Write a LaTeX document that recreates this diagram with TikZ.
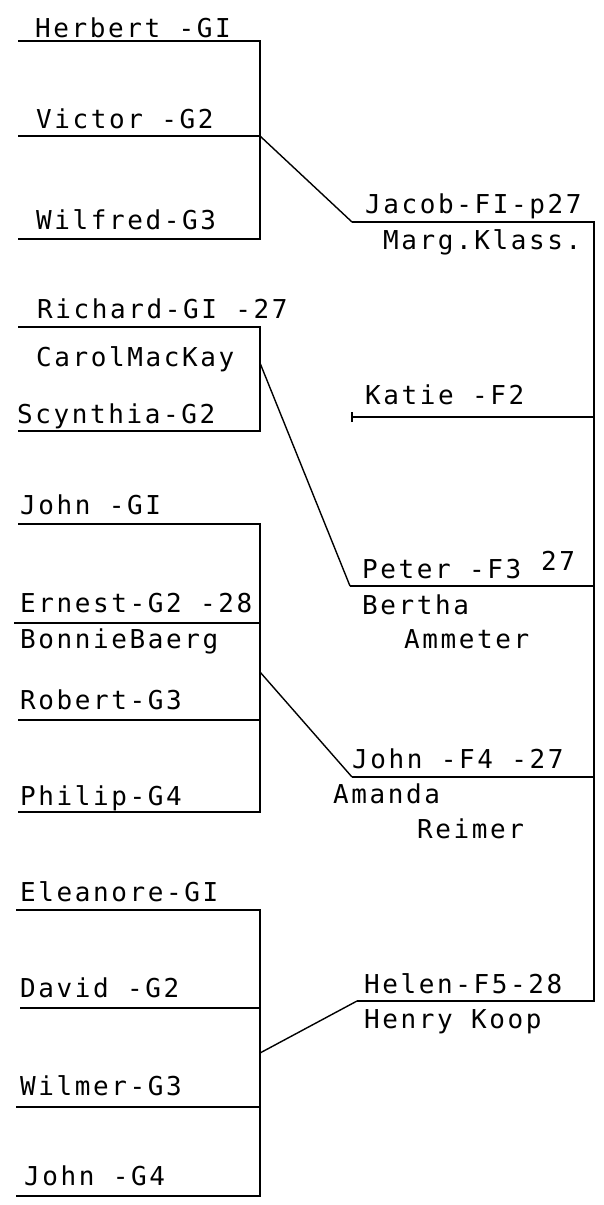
\documentclass[tikz,border=0pt]{standalone}
\usepackage{fontspec}
\newfontfamily\plotfont[LetterSpace=10]{DejaVu Sans Mono}
\begin{document}
\begin{tikzpicture}[x=1pt,y=-1pt,
  lbl/.style={anchor=base west, inner sep=0pt, font=\plotfont\fontsize{26}{26}\selectfont},
  ln/.style={line width=2pt, line join=miter}]
\useasboundingbox (0,0) rectangle (604,1205);
% ---------- left group 1
\coordinate (a1L) at (18,41);  \coordinate (a1R) at (260,41);
\coordinate (a2L) at (18,136); \coordinate (a2R) at (260,136);
\coordinate (a3L) at (18,239); \coordinate (a3R) at (260,239);
\node[lbl] (herbert) at (35,37) {Herbert -GI};
\node[lbl] (victor) at (36,128) {Victor -G2};
\node[lbl] (wilfred) at (36,229) {Wilfred-G3};
\draw[ln] (a1L) -- (a1R) -- (a3R) -- (a3L);
\draw[ln] (a2L) -- (a2R);
% ---------- left group 2
\coordinate (b1L) at (18,327); \coordinate (b1R) at (260,327);
\coordinate (b2L) at (18,431); \coordinate (b2R) at (260,431);
\coordinate (bJ) at (260,363);
\node[lbl] (richard) at (37,318) {Richard-GI -27};
\node[lbl] (carol) at (36,366) {CarolMacKay};
\node[lbl] (scynthia) at (17,423) {Scynthia-G2};
\draw[ln] (b1L) -- (b1R) -- (b2R) -- (b2L);
% ---------- left group 3
\coordinate (c1L) at (18,524); \coordinate (c1R) at (260,524);
\coordinate (c2L) at (14,623); \coordinate (c2R) at (260,623);
\coordinate (c3L) at (18,720); \coordinate (c3R) at (260,720);
\coordinate (c4L) at (18,812); \coordinate (c4R) at (260,812);
\coordinate (cJ) at (260,672);
\node[lbl] (john1) at (20,514) {John -GI};
\node[lbl] (ernest) at (20,612) {Ernest-G2 -28};
\node[lbl] (bonnie) at (20,648) {BonnieBaerg};
\node[lbl] (robert) at (20,709) {Robert-G3};
\node[lbl] (philip) at (20,805) {Philip-G4};
\draw[ln] (c1L) -- (c1R) -- (c4R) -- (c4L);
\draw[ln] (c2L) -- (c2R);
\draw[ln] (c3L) -- (c3R);
% ---------- left group 4
\coordinate (d1L) at (16,910);  \coordinate (d1R) at (260,910);
\coordinate (d2L) at (20,1008); \coordinate (d2R) at (260,1008);
\coordinate (d3L) at (16,1107); \coordinate (d3R) at (260,1107);
\coordinate (d4L) at (16,1196); \coordinate (d4R) at (260,1196);
\coordinate (dJ) at (260,1053);
\node[lbl] (eleanore) at (20,901) {Eleanore-GI};
\node[lbl] (david) at (20,997) {David -G2};
\node[lbl] (wilmer) at (20,1095) {Wilmer-G3};
\node[lbl] (john4) at (24,1185) {John -G4};
\draw[ln] (d1L) -- (d1R) -- (d4R) -- (d4L);
\draw[ln] (d2L) -- (d2R);
\draw[ln] (d3L) -- (d3R);
% ---------- right column
\coordinate (f1L) at (352,222);  \coordinate (f1R) at (594,222);
\coordinate (f2L) at (352,417);  \coordinate (f2R) at (594,417);
\coordinate (f3L) at (350,586);  \coordinate (f3R) at (594,586);
\coordinate (f4L) at (352,777);  \coordinate (f4R) at (594,777);
\coordinate (f5L) at (357,1001); \coordinate (f5R) at (594,1001);
\node[lbl] (jacob) at (365,213) {Jacob-FI-p27};
\node[lbl] (marg) at (383,249) {Marg.Klass.};
\node[lbl] (katie) at (365,404) {Katie -F2};
\node[lbl] (peter) at (362,578) {Peter -F3};
\node[lbl] (peter27) at (541,570) {27};
\node[lbl] (bertha) at (362,614) {Bertha};
\node[lbl] (ammeter) at (404,648) {Ammeter};
\node[lbl] (johnf) at (352,768) {John -F4 -27};
\node[lbl] (amanda) at (333,803) {Amanda};
\node[lbl] (reimer) at (417,838) {Reimer};
\node[lbl] (helen) at (364,993) {Helen-F5-28};
\node[lbl] (henry) at (364,1028) {Henry Koop};
\draw[ln] (f1L) -- (f1R) -- (f5R) -- (f5L);
\draw[ln] (f2L) -- (f2R);
\draw[ln] (f3L) -- (f3R);
\draw[ln] (f4L) -- (f4R);
\draw[ln] ([yshift=-5pt]f2L) -- ([yshift=5pt]f2L);
% ---------- connectors from children to parents
\draw[line width=1.4pt] (a2R) -- (f1L);
\draw[line width=1.4pt] (bJ) -- (f3L);
\draw[line width=1.4pt] (cJ) -- (f4L);
\draw[line width=1.4pt] (dJ) -- (f5L);
\end{tikzpicture}
\end{document}
